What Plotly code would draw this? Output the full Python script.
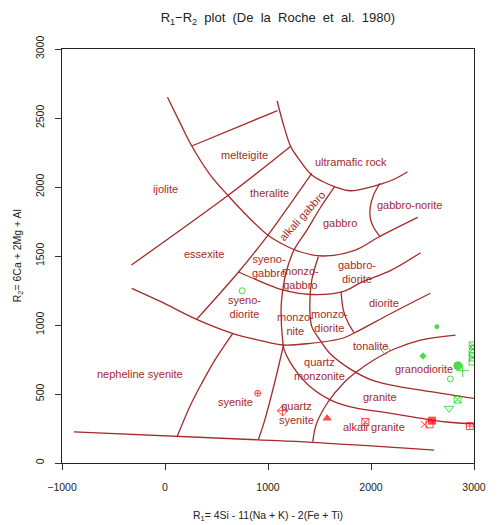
import plotly.graph_objects as go

# ---------------- boundary lines (data coordinates R1, R2) ----------------
bottom_x = [-884, 903, 1432, 2613]
bottom_y = [225, 168, 150, 94]

lineB_x = [-326, 610, 1224]
lineB_y = [1435, 1938, 2297]

lineC_x = [260, 1092]
lineC_y = [2297, 2554]

arcD_x = [24, 149, 260, 433, 610, 799, 997, 1158, 1319, 1536, 1848, 2075, 2453]
arcD_y = [2650, 2461, 2297, 2094, 1940, 1790, 1652, 1580, 1529, 1500, 1543, 1638, 1780]

arcU_x = [1089, 1111, 1158, 1221, 1284, 1425, 1536, 1647, 1803, 1945, 2103, 2229, 2355]
arcU_y = [2625, 2558, 2432, 2292, 2219, 2087, 2038, 2002, 1973, 1990, 2022, 2058, 2111]

gnorite_x = [2087, 2025, 1993, 1993, 2025, 2087]
gnorite_y = [2027, 1942, 1857, 1773, 1708, 1640]

lineM_x = [1425, 1221, 1000, 714, 307]
lineM_y = [2099, 1882, 1652, 1384, 1041]

curveI_x = [1647, 1505, 1378, 1252, 1174, 1132, 1127, 1142, 1158, 1252, 1413, 1630, 1848, 2103, 2415, 2736, 3011]
curveI_y = [2002, 1846, 1688, 1543, 1375, 1181, 1085, 891, 819, 688, 551, 449, 399, 370, 333, 297, 283]

curveK_x = [1489, 1425, 1406, 1425, 1505, 1599, 1788, 2009, 2198, 2576, 3011]
curveK_y = [1495, 1326, 1133, 988, 891, 795, 686, 601, 565, 517, 467]

lineE_x = [-323, -40, 307, 654, 906, 1148, 1410, 1725, 1838, 2198, 2576]
lineE_y = [1266, 1169, 1041, 940, 891, 855, 867, 904, 942, 1085, 1230]

lineH_x = [714, 969, 1142, 1410, 1725, 1914, 2198, 2481]
lineH_y = [1384, 1302, 1254, 1221, 1241, 1312, 1398, 1524]

curveQ_x = [1709, 1734, 1782, 1838]
curveQ_y = [1241, 1101, 1011, 942]

lineG_x = [657, 484, 357, 248, 115]
lineG_y = [938, 746, 578, 420, 186]

lineJ_x = [1151, 1063, 969, 906]
lineJ_y = [855, 578, 312, 167]

lineP_x = [1435, 1470, 1583, 1744, 1857, 2027, 2226, 2481, 2821]
lineP_y = [154, 283, 442, 587, 659, 746, 826, 891, 927]

boundaries = [
    (bottom_x, bottom_y), (lineB_x, lineB_y), (lineC_x, lineC_y),
    (arcD_x, arcD_y), (arcU_x, arcU_y), (gnorite_x, gnorite_y),
    (lineM_x, lineM_y), (curveI_x, curveI_y), (curveK_x, curveK_y),
    (lineE_x, lineE_y), (lineH_x, lineH_y), (curveQ_x, curveQ_y),
    (lineG_x, lineG_y), (lineJ_x, lineJ_y), (lineP_x, lineP_y),
]

# ---------------- field labels ----------------
label_text = ["melteigite", "ijolite", "theralite", "ultramafic rock", "gabbro-norite",
              "gabbro", "essexite", "syeno-<br>gabbro", "monzo-<br>gabbro",
              "gabbro-<br>diorite", "diorite", "syeno-<br>diorite", "monzo-<br>nite",
              "monzo-<br>diorite", "tonalite", "quartz<br>monzonite", "granodiorite",
              "granite", "alkali granite", "quartz<br>syenite", "syenite",
              "nepheline syenite"]
label_x = [770, 0, 1016, 1801, 2377, 1697, 383, 1007, 1319, 1867, 2131, 770, 1271,
           1593, 1999, 1498, 2519, 2084, 2027, 1281, 681, -241]
label_y = [2232, 1985, 1956, 2181, 1869, 1739, 1514, 1427, 1341, 1384, 1159, 1127, 1007,
           1029, 848, 681, 681, 478, 261, 359, 442, 645]

rot_label = "alkali gabbro"
rot_x, rot_y = 1330, 1790

# ---------------- samples ----------------
green_x = [749, 2141, 2639, 2505, 2843, 2890, 2771, 2758, 2840, 2988, 2990, 2986, 2990, 2986]
green_y = [1248, 819, 988, 775, 705, 669, 609, 396, 460, 852, 826, 795, 765, 735]
green_sym = ["circle-open", "diamond-open", "circle", "diamond", "circle", "cross-thin-open",
             "circle-open", "triangle-down-open", "square-x-open", "square-x-open",
             "hourglass-open", "square-open", "square-x-open", "square-open"]
green_size = [6, 7, 4, 5, 8, 9, 6, 8, 7, 7, 7, 7, 7, 7]

red_x = [900, 1142, 1574, 1945, 2519, 2569, 2592, 2960]
red_y = [505, 379, 324, 297, 280, 280, 307, 268]
red_sym = ["circle-cross-open", "diamond-cross-open", "triangle-up", "square-x-open",
           "x-thin-open", "square-open", "square", "square-cross-open"]
red_size = [6, 8, 7, 7, 7, 7, 7, 7]

x_ticks = [-1000, 0, 1000, 2000, 3000]
y_ticks = [0, 500, 1000, 1500, 2000, 2500, 3000]

LINE_COL = "#A52A2A"
FONT = "Liberation Sans, Arial, sans-serif"

fig = go.Figure()
for bx, by in boundaries:
    fig.add_trace(go.Scatter(x=bx, y=by, mode="lines", line=dict(color=LINE_COL, width=1.3),
                             line_shape="spline", hoverinfo="skip", showlegend=False))

fig.add_trace(go.Scatter(x=green_x, y=green_y, mode="markers", showlegend=False,
                         marker=dict(symbol=green_sym, size=green_size, color="#00CD00",
                                     line=dict(color="#00CD00", width=1))))
fig.add_trace(go.Scatter(x=red_x, y=red_y, mode="markers", showlegend=False,
                         marker=dict(symbol=red_sym, size=red_size, color="#FF0000",
                                     line=dict(color="#FF0000", width=1))))

for t, lx, ly in zip(label_text, label_x, label_y):
    fig.add_annotation(x=lx, y=ly, text=t, showarrow=False, xref="x", yref="y",
                       font=dict(family=FONT, size=11, color=LINE_COL))
fig.add_annotation(x=rot_x, y=rot_y, text=rot_label, showarrow=False, textangle=-48,
                   font=dict(family=FONT, size=11, color=LINE_COL))

# axis titles
fig.add_annotation(x=0.5, y=-0.128, xref="paper", yref="paper", showarrow=False,
                   yshift=-9,
                   text="R<sub>1</sub>= 4Si - 11(Na + K) - 2(Fe + Ti)",
                   font=dict(family=FONT, size=10.5, color="#222"))
fig.add_annotation(x=-0.128, y=0.5, xref="paper", yref="paper", showarrow=False,
                   textangle=-90, text="R<sub>2</sub>= 6Ca + 2Mg + Al",
                   font=dict(family=FONT, size=10.5, color="#222"))

fig.update_layout(
    width=498, height=525,
    margin=dict(l=62, r=13, t=49, b=62),
    paper_bgcolor="white", plot_bgcolor="white",
    title=dict(text="R<sub>1</sub>−R<sub>2</sub>  plot  (De  la  Roche  et  al.  1980)",
               x=0.524, xref="paper", xanchor="center", y=0.966, yanchor="middle",
               font=dict(family=FONT, size=13, color="#222")),
    xaxis=dict(range=[-1000, 3000], tickvals=x_ticks, ticks="outside", ticklen=6,
               tickcolor="#333", showgrid=False, zeroline=False, showline=True,
               mirror=True, linecolor="#222", linewidth=1, ticklabelstandoff=8,
               tickfont=dict(family=FONT, size=10.5, color="#222")),
    yaxis=dict(range=[0, 3000], tickvals=y_ticks, ticks="outside", ticklen=6,
               tickcolor="#333", showgrid=False, zeroline=False, showline=True,
               mirror=True, linecolor="#222", linewidth=1, tickangle=-90,
               ticklabelstandoff=7,
               tickfont=dict(family=FONT, size=10.5, color="#222")),
)

fig.write_html("out.html")
